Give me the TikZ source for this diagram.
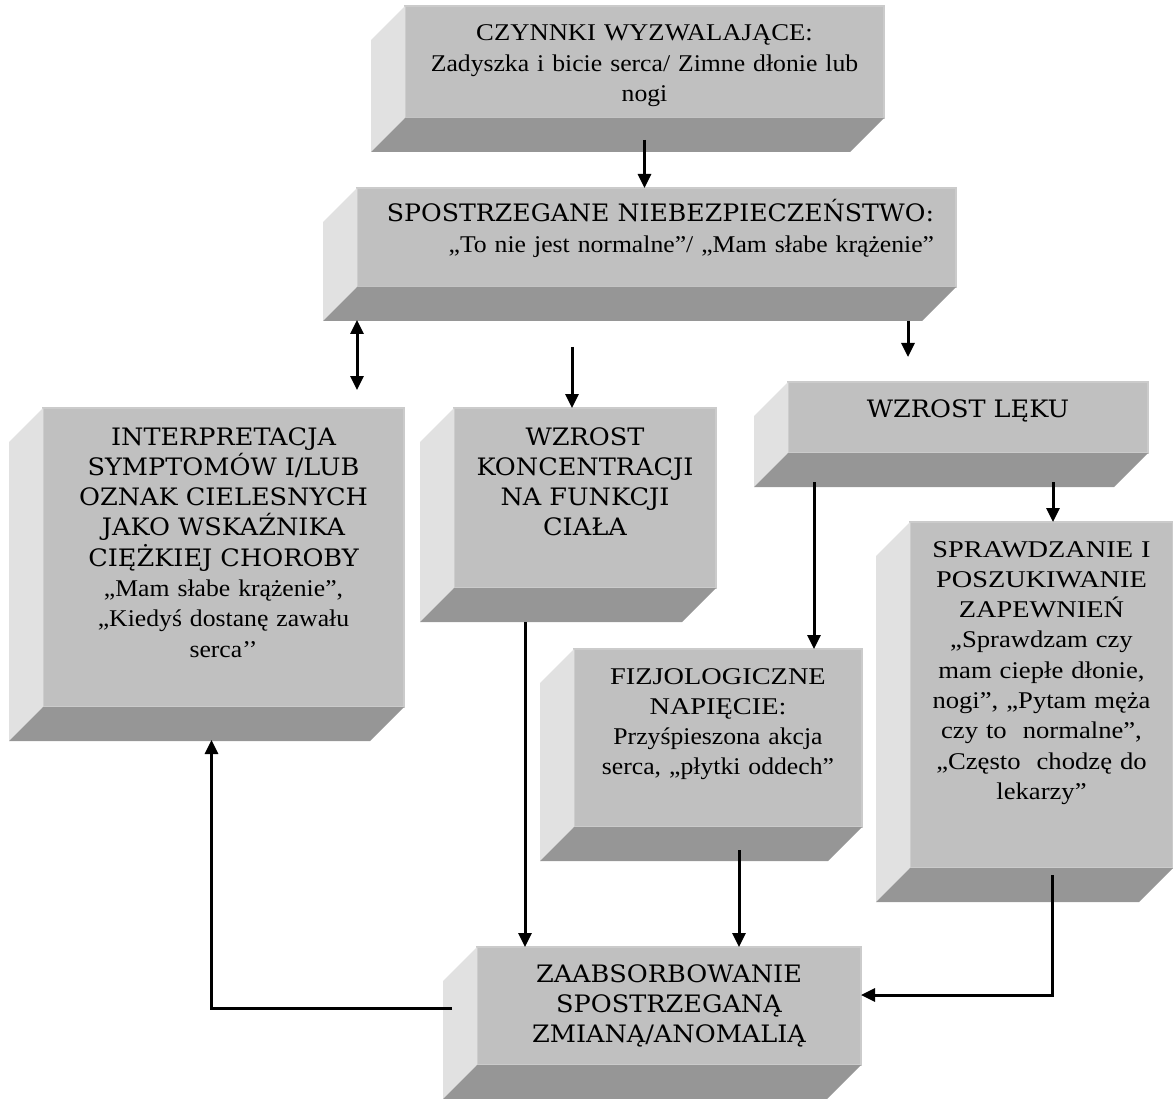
\documentclass[tikz,border=0pt]{standalone}
\usepackage{fontspec}
\setmainfont{Liberation Serif}[FakeStretch=1.07]
\newfontfamily\capsfont{DejaVu Serif}[FakeStretch=1.065]
\newfontfamily\capsroman{Liberation Serif}[FakeStretch=1.18]
\usepackage{xcolor}
\usepackage{tikz}
\usetikzlibrary{calc,arrows.meta}
\definecolor{front}{HTML}{C0C0C0}
\definecolor{frontedge}{HTML}{CBCBCB}
\definecolor{side}{HTML}{E1E1E1}
\definecolor{under}{HTML}{969696}
\tikzset{
  box/.style={fill=front, draw=frontedge, line width=1.2pt, anchor=north west, align=center,
    inner xsep=4pt, inner ysep=0pt, outer sep=0pt, text height=35pt,
    font=\fontsize{24}{30.3}\selectfont},
  caps/.style={box, font=\fontsize{24}{30.3}\selectfont\capsfont},
  sideface/.style={fill=side},
  underface/.style={fill=under},
  arr/.style={draw=black, line width=3pt, -{Triangle[width=13pt,length=14pt]}},
  dbl/.style={draw=black, line width=3pt, {Triangle[width=13pt,length=14pt]}-{Triangle[width=13pt,length=14pt]}},
}

\begin{document}
\begin{tikzpicture}[x=1pt,y=1pt]
  \useasboundingbox (0,0) rectangle (1173,-1099);

  % front faces
  \node[box, text width=471pt, text depth=77pt] (czyn) at (405,-6)
    {{\addfontfeatures{FakeStretch=1.11}CZYNNKI WYZWALAJĄCE:}\\Zadyszka i bicie serca/ Zimne dłonie lub\\nogi};
  \node[box, align=right, inner xsep=22pt, text width=555pt, text height=34pt, text depth=65pt] (spos) at (357,-188)
    {{\capsfont\addfontfeatures{FakeStretch=1.05}SPOSTRZEGANE NIEBEZPIECZEŃSTWO:}\\„To nie jest normalne”/ „Mam słabe krążenie”};
  \node[box, text width=353pt, text height=37pt, text depth=262pt] (interp) at (43,-408)
    {{\capsfont INTERPRETACJA\\SYMPTOMÓW I/LUB\\OZNAK CIELESNYCH\\JAKO WSKAŹNIKA\\CIĘŻKIEJ CHOROBY}\\
     „Mam słabe krążenie”,\\„Kiedyś dostanę zawału\\serca’’};
  \node[caps, text width=254pt, text height=37pt, text depth=143pt] (konc) at (454,-408)
    {WZROST\\KONCENTRACJI\\NA FUNKCJI\\CIAŁA};
  \node[caps, text width=352pt, text depth=36pt] (lek) at (788,-382) {WZROST LĘKU};
  \node[box, text width=280pt, text depth=143pt] (fizj) at (574,-649)
    {{\capsroman FIZJOLOGICZNE\\NAPIĘCIE:}\\Przyśpieszona akcja\\serca, „płytki oddech”};
  \node[box, text width=255pt, text depth=311pt] (spraw) at (910,-522)
    {{\capsroman SPRAWDZANIE I\\POSZUKIWANIE\\ZAPEWNIEŃ}\\{\addfontfeatures{FakeStretch=1.11}„Sprawdzam czy\\mam ciepłe dłonie,\\nogi”, „Pytam męża\\czy to~~normalne”,\\„Często~~chodzę do\\lekarzy”}};
  \node[caps, text width=376pt, text depth=83pt] (zaab) at (477,-947)
    {ZAABSORBOWANIE\\SPOSTRZEGANĄ\\ZMIANĄ/ANOMALIĄ};

  % bevels
  \foreach \b in {czyn,spos,interp,konc,lek,fizj,spraw,zaab}{
    \fill[sideface] (\b.north west) -- (\b.south west) -- ++(-34,-34) -- ($(\b.north west)+(-34,-34)$) -- cycle;
    \fill[underface] (\b.south west) -- (\b.south east) -- ++(-34,-34) -- ($(\b.south west)+(-34,-34)$) -- cycle;
  }

  % connectors
  \draw[arr] ([yshift=-22pt]czyn.south) -- (czyn.south |- spos.north);
  \draw[dbl] ([yshift=-33pt]spos.south west) -- ([yshift=18pt]spos.south west |- interp.north);
  \draw[arr] ([xshift=-13pt,yshift=61pt]konc.north) -- ([xshift=-13pt]konc.north);
  \draw[arr] ([xshift=-48pt,yshift=-34pt]spos.south east) -- ([xshift=-48pt,yshift=25pt]spos.south east |- lek.north);
  \draw[arr] ([xshift=26pt,yshift=-29pt]lek.south west) -- ([xshift=26pt]lek.south west |- fizj.north);
  \draw[arr] ([xshift=-95pt,yshift=-29pt]lek.south east) -- ([xshift=-95pt]lek.south east |- spraw.north);
  \draw[arr] ([xshift=71pt,yshift=-34pt]konc.south west) -- ([xshift=71pt]konc.south west |- zaab.north);
  \draw[arr] ([xshift=21pt,yshift=-23pt]fizj.south) -- ([xshift=21pt]fizj.south |- zaab.north);
  \draw[arr] ([xshift=11pt,yshift=-7pt]spraw.south) |- ([yshift=11pt]zaab.east);
  \draw[arr] ([xshift=-25pt,yshift=-2pt]zaab.west) -| ([xshift=-12pt,yshift=-33pt]interp.south);
\end{tikzpicture}
\end{document}
